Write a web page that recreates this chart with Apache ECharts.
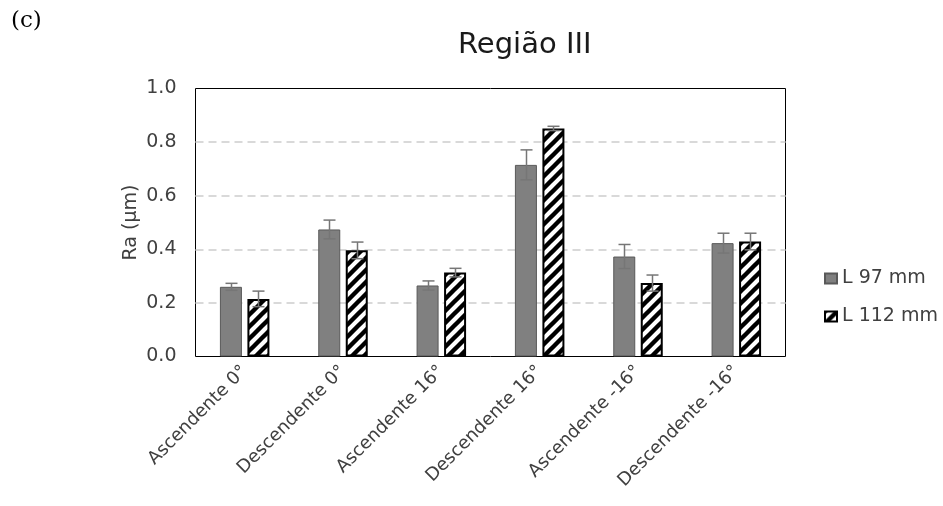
<!DOCTYPE html>
<html>
<head>
<meta charset="utf-8">
<title>Região III</title>
<script src="https://cdn.jsdelivr.net/npm/echarts@6/dist/echarts.min.js"></script>
<style>
  html, body { margin: 0; padding: 0; background: #fff; }
  #chart { width: 943px; height: 506px; }
</style>
</head>
<body>
<div id="chart"></div>
<script>
// Surface roughness (Ra) for region III, by path direction and inclination
const categories = ['Ascendente 0°', 'Descendente 0°', 'Ascendente 16°', 'Descendente 16°', 'Ascendente -16°', 'Descendente -16°'];
const seriesNames = ['L 97 mm', 'L 112 mm'];
const l97 = [0.260, 0.474, 0.265, 0.715, 0.373, 0.423];
const l97Err = [0.013, 0.035, 0.017, 0.056, 0.045, 0.037];
const l112 = [0.215, 0.396, 0.313, 0.851, 0.274, 0.429];
const l112Err = [0.029, 0.031, 0.016, 0.008, 0.030, 0.031];
const yTicks = [0, 0.2, 0.4, 0.6, 0.8, 1.0];

const FONT = '"DejaVu Sans", "Liberation Sans", Arial, sans-serif';
const BAR_W = 22;
const BAR_GAP = 0.25;            // fraction of bar width
const HALF_STEP = (BAR_W * (1 + BAR_GAP)) / 2;

// Diagonal black/white hatch used to fill the L 112 mm bars
function makeHatch() {
  const s = 12;
  const c = document.createElement('canvas');
  c.width = s; c.height = s;
  const g = c.getContext('2d');
  g.fillStyle = '#fff';
  g.fillRect(0, 0, s, s);
  g.strokeStyle = '#000';
  g.lineWidth = 4.4;
  g.lineCap = 'square';
  g.beginPath();
  g.moveTo(-s, s * 2); g.lineTo(s * 2, -s);
  g.moveTo(-s, s);     g.lineTo(s, -s);
  g.moveTo(0, s * 2);  g.lineTo(s * 2, 0);
  g.stroke();
  return c;
}
const hatch = makeHatch();

function errorData(values, errs) {
  return values.map((v, i) => [i, v - errs[i], v + errs[i]]);
}

function errorSeries(values, errs, offset) {
  return {
    type: 'custom',
    z: 10,
    silent: true,
    data: errorData(values, errs),
    encode: { x: 0, y: [1, 2] },
    renderItem: function (params, api) {
      const lo = api.coord([api.value(0), api.value(1)]);
      const hi = api.coord([api.value(0), api.value(2)]);
      const x = Math.round(lo[0] + offset) + 0.5;
      const cap = 6;
      const style = { stroke: '#767676', lineWidth: 1.5, fill: null };
      return {
        type: 'group',
        children: [
          { type: 'line', shape: { x1: x, y1: lo[1], x2: x, y2: hi[1] }, style: style },
          { type: 'line', shape: { x1: x - cap, y1: hi[1], x2: x + cap, y2: hi[1] }, style: style },
          { type: 'line', shape: { x1: x - cap, y1: lo[1], x2: x + cap, y2: lo[1] }, style: style }
        ]
      };
    }
  };
}

const chart = echarts.init(document.getElementById('chart'), null, { renderer: 'canvas' });

chart.setOption({
  animation: false,
  backgroundColor: '#fff',
  textStyle: { fontFamily: FONT },
  title: {
    text: 'Região III',
    left: 453,
    top: 26,
    textStyle: { fontFamily: FONT, fontSize: 29, fontWeight: 'normal', color: '#1a1a1a' }
  },
  graphic: [{
    type: 'text',
    left: 11,
    top: 10,
    style: { text: '(c)', font: '23px "DejaVu Serif", "Liberation Serif", serif', fill: '#000' }
  }],
  legend: {
    data: seriesNames,
    orient: 'vertical',
    left: 824,
    top: 269,
    padding: 0,
    itemWidth: 12,
    itemHeight: 10,
    itemGap: 19,
    icon: 'rect',
    textStyle: { fontFamily: FONT, fontSize: 19, color: '#404040' }
  },
  grid: {
    left: 195.5, top: 88.5, width: 590, height: 268,
    show: true, borderColor: '#000', borderWidth: 1, backgroundColor: 'transparent'
  },
  xAxis: {
    type: 'category',
    data: categories,
    axisLine: { show: false },
    axisTick: { show: false },
    axisLabel: { interval: 0, rotate: 45, fontFamily: FONT, fontSize: 18, color: '#404040', margin: 12 }
  },
  yAxis: {
    type: 'value',
    min: yTicks[0],
    max: yTicks[yTicks.length - 1],
    interval: 0.2,
    name: 'Ra (µm)',
    nameLocation: 'middle',
    nameGap: 55,
    nameMoveOverlap: false,
    nameTextStyle: { fontFamily: FONT, fontSize: 19, color: '#404040' },
    axisLine: { show: false },
    axisTick: { show: false },
    axisLabel: { fontFamily: FONT, fontSize: 19, color: '#404040', margin: 19, formatter: v => v.toFixed(1) },
    splitLine: { show: true, showMinLine: false, showMaxLine: false, lineStyle: { color: '#d9d9d9', width: 2, type: [8, 5] } }
  },
  series: [
    {
      name: seriesNames[0],
      type: 'bar',
      data: l97,
      barWidth: BAR_W,
      barGap: (BAR_GAP * 100) + '%',
      itemStyle: { color: '#808080', borderColor: '#595959', borderWidth: 1 }
    },
    {
      name: seriesNames[1],
      type: 'bar',
      data: l112,
      barWidth: BAR_W,
      itemStyle: { color: { image: hatch, repeat: 'repeat' }, borderColor: '#000', borderWidth: 2 }
    },
    errorSeries(l97, l97Err, -HALF_STEP),
    errorSeries(l112, l112Err, HALF_STEP)
  ]
});
</script>
</body>
</html>
